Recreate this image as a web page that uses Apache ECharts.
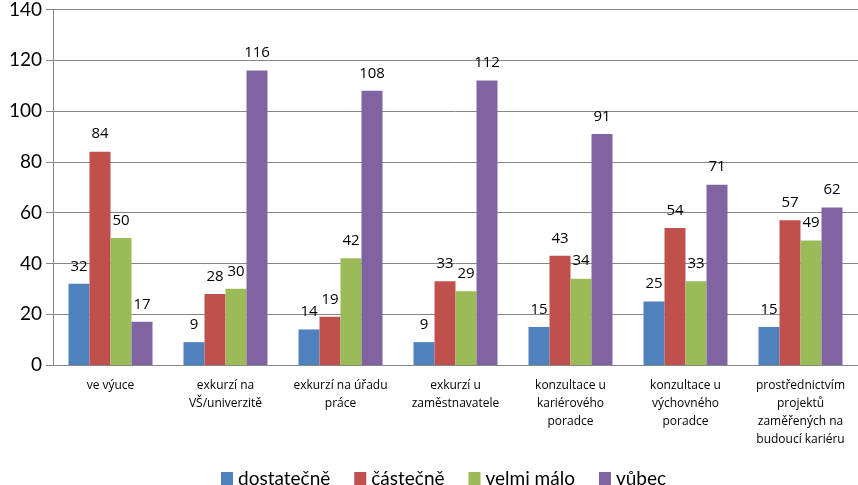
<!DOCTYPE html>
<html>
<head>
<meta charset="utf-8">
<script src="https://cdn.jsdelivr.net/npm/echarts@6/dist/echarts.min.js"></script>
<style>html,body{margin:0;padding:0;background:#fff}#c{width:858px;height:485px}</style>
</head>
<body>
<div id="c"></div>
<script>
var categories = ["ve výuce", "exkurzí na\nVŠ/univerzitě", "exkurzí na úřadu\npráce", "exkurzí u\nzaměstnavatele", "konzultace u\nkariérového\nporadce", "konzultace u\nvýchovného\nporadce", "prostřednictvím\nprojektů\nzaměřených na\nbudoucí kariéru"];
var seriesNames = ["dostatečně", "částečně", "velmi málo", "vůbec"];
var dostatecne = [32, 9, 14, 9, 15, 25, 15];
var castecne = [84, 28, 19, 33, 43, 54, 57];
var velmiMalo = [50, 30, 42, 29, 34, 33, 49];
var vubec = [17, 116, 108, 112, 91, 71, 62];
var colors = ["#4F81BD", "#C0504D", "#9BBB59", "#8064A2"];
var values = [dostatecne, castecne, velmiMalo, vubec];

var chart = echarts.init(document.getElementById('c'));
var font = "Lato, 'Open Sans', sans-serif";
var font2 = "'Open Sans', sans-serif";
chart.setOption({
  animation: false,
  grid: {left: 53, top: 8, width: 814, height: 357},
  legend: {
    top: 469, left: 221, padding: 0, itemWidth: 12, itemHeight: 13, itemGap: 24,
    icon: 'rect',
    textStyle: {fontFamily: font, fontSize: 19, color: '#000'},
    data: seriesNames
  },
  xAxis: {
    type: 'category', data: categories,
    axisLine: {lineStyle: {color: '#868686'}},
    axisTick: {length: 5, lineStyle: {color: '#868686'}},
    axisLabel: {fontFamily: font2, fontSize: 12, color: '#000', lineHeight: 18, margin: 12, interval: 0}
  },
  yAxis: {
    type: 'value', min: 0, max: 140, interval: 20,
    axisLine: {show: true, lineStyle: {color: '#868686'}},
    axisTick: {show: true, length: 7, lineStyle: {color: '#868686'}},
    splitLine: {lineStyle: {color: '#868686'}},
    axisLabel: {fontFamily: font, fontSize: 19, color: '#000', margin: 11}
  },
  series: seriesNames.map(function (n, i) {
    return {
      name: n, type: 'bar', data: values[i], barWidth: 21, barGap: '0%',
      itemStyle: {color: colors[i]},
      label: {show: true, position: 'top', distance: 10, fontFamily: font2, fontSize: 15, color: '#000'}
    };
  })
});
</script>
</body>
</html>
